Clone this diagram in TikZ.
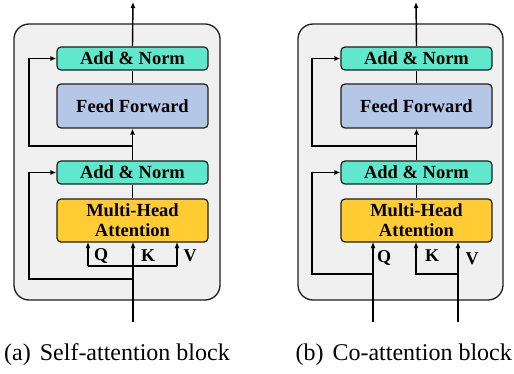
\documentclass[tikz,border=0pt]{standalone}
\usepackage{fontspec}
\setmainfont{Liberation Serif}
\usetikzlibrary{arrows.meta}
\definecolor{anfill}{RGB}{96,232,204}
\definecolor{fffill}{RGB}{180,199,231}
\definecolor{mhafill}{RGB}{255,204,51}
\definecolor{panelfill}{RGB}{240,240,240}
\definecolor{edge}{RGB}{30,30,30}
\tikzset{
  boxbase/.style={draw=edge, line width=1.2pt, rounded corners=4pt, inner sep=0pt,
    minimum width=151pt, align=center,
    font=\fontsize{18.5}{20}\selectfont\bfseries},
  anbox/.style={boxbase, fill=anfill, minimum height=23pt},
  ffbox/.style={boxbase, fill=fffill, minimum height=44pt},
  mhabox/.style={boxbase, fill=mhafill, minimum height=43pt},
  panel/.style={draw=edge, line width=1.3pt, fill=panelfill, rounded corners=15pt},
  wire/.style={line width=1.4pt, black},
  arr/.style={wire, -{Latex[length=6pt,width=5pt]}},
  qkv/.style={font=\fontsize{18}{20}\selectfont\bfseries, inner sep=0pt},
  captext/.style={font=\fontsize{24}{27}\selectfont, inner sep=0pt}
}
\begin{document}
\begin{tikzpicture}[x=1pt,y=-1pt]
\useasboundingbox (0,0) rectangle (514,374);
% ---------------- Panel (a) ----------------
\draw[panel] (14,24) rectangle (220,300);
\node[anbox]  (an2a) at (132.5,58.5) {Add \& Norm};
\node[ffbox]  (ffa)  at (132.5,106)  {Feed Forward};
\node[anbox]  (an1a) at (132.5,172.5){Add \& Norm};
\node[mhabox] (mhaa) at (132.5,220.5){Multi-Head\\Attention};
\coordinate (outa) at (133,2);
\coordinate (ina)  at (133,322);
\coordinate (j1a)  at (133,146);
\coordinate (r1a)  at (29,146);
\coordinate (j0a)  at (133,279);
\coordinate (r0a)  at (29,279);
\coordinate (qa)   at (88,266);
\coordinate (va)   at (177,266);
\draw[arr] (an2a.north) -- (outa);
\draw[wire] (ffa.north) -- (an2a.south);
\draw[arr] (an1a.north) -- (ffa.south);
\draw[wire] (mhaa.north) -- (an1a.south);
\draw[arr] (j1a) -- (r1a) |- (an2a.west);
\draw[arr] (ina) -- (133,242);
\draw[arr] (j0a) -- (r0a) |- (an1a.west);
\draw[wire] (qa) -- (va);
\draw[arr] (qa) -- (88,242);
\draw[arr] (va) -- (177,242);
\node[qkv] (Qa) at (101,256) {Q};
\node[qkv] (Ka) at (148,256) {K};
\node[qkv] (Va) at (190,256) {V};
% ---------------- Panel (b) ----------------
\draw[panel] (298,24) rectangle (503,300);
\node[anbox]  (an2b) at (416.5,58.5) {Add \& Norm};
\node[ffbox]  (ffb)  at (416.5,106)  {Feed Forward};
\node[anbox]  (an1b) at (416.5,172.5){Add \& Norm};
\node[mhabox] (mhab) at (416.5,220.5){Multi-Head\\Attention};
\coordinate (outb) at (416,2);
\coordinate (j1b)  at (416,146);
\coordinate (r1b)  at (312,146);
\coordinate (inqb) at (373,322);
\coordinate (invb) at (458,322);
\coordinate (jqb)  at (373,274);
\coordinate (r0b)  at (312,274);
\coordinate (kb)   at (416,274);
\draw[arr] (an2b.north) -- (outb);
\draw[wire] (ffb.north) -- (an2b.south);
\draw[arr] (an1b.north) -- (ffb.south);
\draw[wire] (mhab.north) -- (an1b.south);
\draw[arr] (j1b) -- (r1b) |- (an2b.west);
\draw[arr] (inqb) -- (373,242);
\draw[arr] (jqb) -- (r0b) |- (an1b.west);
\draw[arr] (invb) -- (458,242);
\draw[arr] (458,274) -- (kb) -- (416,242);
\node[qkv] (Qb) at (384,258) {Q};
\node[qkv] (Kb) at (432,256) {K};
\node[qkv] (Vb) at (472,259) {V};
% ---------------- Captions ----------------
\node[captext, anchor=base west] (capa) at (4,360) {(a)\hspace{9pt}Self-attention block};
\node[captext, anchor=base east] (capb) at (512,360) {(b)\hspace{9pt}Co-attention block};
\end{tikzpicture}
\end{document}
